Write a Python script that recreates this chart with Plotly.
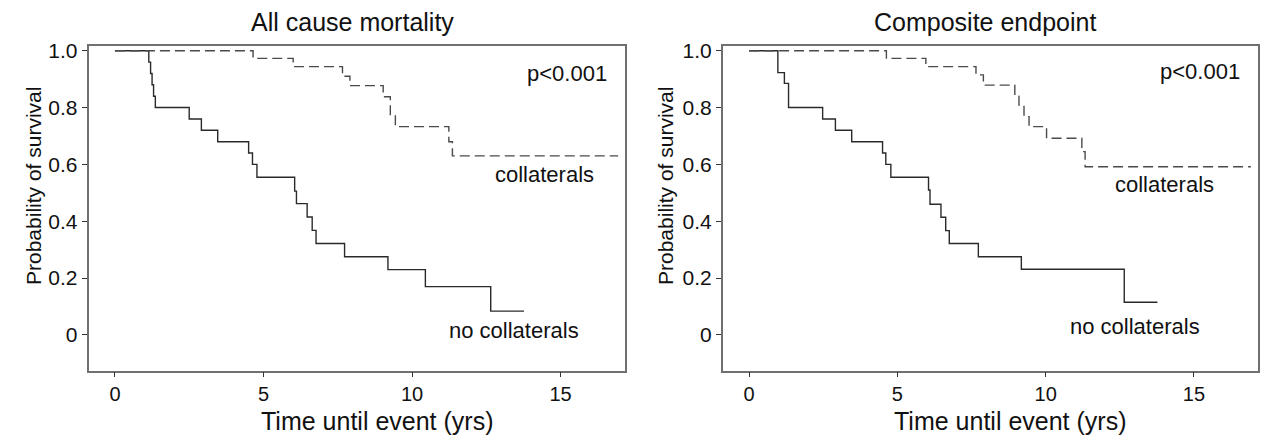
import plotly.graph_objects as go

# ---- data ----
left_nocoll_t = [0, 1.14, 1.20, 1.25, 1.30, 1.36, 2.50, 2.91, 3.46, 4.50, 4.63, 4.78, 6.05, 6.11, 6.47, 6.64, 6.77, 7.73, 9.19, 10.45, 12.65, 13.77]
left_nocoll_s = [1.0, 0.96, 0.92, 0.88, 0.84, 0.80, 0.76, 0.72, 0.68, 0.64, 0.60, 0.555, 0.506, 0.462, 0.415, 0.368, 0.322, 0.275, 0.23, 0.17, 0.084, 0.084]

left_coll_t = [0, 4.65, 6.00, 7.66, 7.91, 9.03, 9.27, 9.44, 11.24, 11.36, 16.94]
left_coll_s = [1.0, 0.973, 0.944, 0.91, 0.877, 0.838, 0.775, 0.733, 0.68, 0.63, 0.63]

right_nocoll_t = [0, 0.97, 1.19, 1.33, 2.48, 2.91, 3.46, 4.50, 4.61, 4.78, 6.05, 6.10, 6.47, 6.63, 6.75, 7.73, 9.18, 12.65, 13.77]
right_nocoll_s = [1.0, 0.923, 0.885, 0.80, 0.76, 0.72, 0.68, 0.64, 0.60, 0.555, 0.51, 0.46, 0.414, 0.367, 0.322, 0.275, 0.231, 0.115, 0.115]

right_coll_t = [0, 4.63, 5.96, 7.65, 7.90, 8.96, 9.10, 9.27, 9.44, 10.03, 11.22, 11.33, 16.92]
right_coll_s = [1.0, 0.973, 0.944, 0.915, 0.879, 0.84, 0.809, 0.768, 0.733, 0.692, 0.645, 0.592, 0.592]

titles = ["All cause mortality", "Composite endpoint"]
x_title = "Time until event (yrs)"
y_title = "Probability of survival"
x_ticks = [0, 5, 10, 15]
y_ticks = [0, 0.2, 0.4, 0.6, 0.8, 1.0]
y_ticktext = ["0", "0.2", "0.4", "0.6", "0.8", "1.0"]
p_text = "p<0.001"

# ---- layout constants ----
W, H = 1266, 441
FONT = "Liberation Sans, Arial, sans-serif"
SOLID_C = "#2a2a2a"
DASH_C = "#4a4a4a"
FRAME_C = "#707070"
XR = [-0.89, 17.17]
YR = [-0.1256, 1.0176]
ydom = [1 - 370.7 / H, 1 - 45.7 / H]
xdom1 = [88.5 / W, 625 / W]
xdom2 = [722.7 / W, 1258.3 / W]

fig = go.Figure()

fig.add_trace(go.Scatter(x=left_nocoll_t, y=left_nocoll_s, mode="lines", line_shape="hv",
                         line=dict(color=SOLID_C, width=1.4), xaxis="x", yaxis="y", showlegend=False))
fig.add_trace(go.Scatter(x=left_coll_t, y=left_coll_s, mode="lines", line_shape="hv",
                         line=dict(color=DASH_C, width=1.4, dash="10px,5px"), xaxis="x", yaxis="y", showlegend=False))
fig.add_trace(go.Scatter(x=right_nocoll_t, y=right_nocoll_s, mode="lines", line_shape="hv",
                         line=dict(color=SOLID_C, width=1.4), xaxis="x2", yaxis="y2", showlegend=False))
fig.add_trace(go.Scatter(x=right_coll_t, y=right_coll_s, mode="lines", line_shape="hv",
                         line=dict(color=DASH_C, width=1.4, dash="10px,5px"), xaxis="x2", yaxis="y2", showlegend=False))

xax = dict(range=XR, tickvals=x_ticks, ticks="outside", ticklen=5, tickwidth=1.2, tickcolor="#333",
           showline=True, linecolor=FRAME_C, linewidth=1.5, mirror=True, showgrid=False, zeroline=False,
           tickfont=dict(family=FONT, size=20, color="#111"), fixedrange=True, automargin=False)
yax = dict(range=YR, tickvals=y_ticks, ticktext=y_ticktext, ticks="outside", ticklen=5, tickwidth=1.2,
           tickcolor="#333", showline=True, linecolor=FRAME_C, linewidth=1.5, mirror=True, showgrid=False,
           zeroline=False, tickfont=dict(family=FONT, size=21, color="#111"), fixedrange=True, domain=ydom,
           automargin=False)

fig.update_layout(
    width=W, height=H, margin=dict(l=0, r=0, t=0, b=0, pad=0),
    paper_bgcolor="white", plot_bgcolor="white",
    xaxis=dict(xax, domain=xdom1, anchor="y"),
    yaxis=dict(yax, anchor="x"),
    xaxis2=dict(xax, domain=xdom2, anchor="y2"),
    yaxis2=dict(yax, anchor="x2"),
    font=dict(family=FONT, color="#111"),
)

ann = []
# panel titles
ann.append(dict(text=titles[0], x=353 / W, y=1 - 22 / H, xref="paper", yref="paper",
                showarrow=False, font=dict(size=25), xanchor="center", yanchor="middle"))
ann.append(dict(text=titles[1], x=985 / W, y=1 - 22 / H, xref="paper", yref="paper",
                showarrow=False, font=dict(size=25), xanchor="center", yanchor="middle"))
# x titles
for cx in (377, 1010):
    ann.append(dict(text=x_title, x=cx / W, y=1 - 421 / H, xref="paper", yref="paper",
                    showarrow=False, font=dict(size=25), xanchor="center", yanchor="middle"))
# y titles
for cx in (33, 665):
    ann.append(dict(text=y_title, x=cx / W, y=1 - 186 / H, xref="paper", yref="paper", textangle=-90,
                    showarrow=False, font=dict(size=21), xanchor="center", yanchor="middle"))
# in-plot labels
for xr, yr, px, py, cx, cy, nx, ny in (("x", "y", 15.21, 0.92, 14.45, 0.563, 13.44, 0.015),
                                       ("x2", "y2", 15.2, 0.926, 14.02, 0.528, 13.0, 0.029)):
    ann.append(dict(text=p_text, x=px, y=py, xref=xr, yref=yr, showarrow=False,
                    font=dict(size=22), xanchor="center", yanchor="middle"))
    ann.append(dict(text="collaterals", x=cx, y=cy, xref=xr, yref=yr, showarrow=False,
                    font=dict(size=22), xanchor="center", yanchor="middle"))
    ann.append(dict(text="no collaterals", x=nx, y=ny, xref=xr, yref=yr, showarrow=False,
                    font=dict(size=22), xanchor="center", yanchor="middle"))

fig.update_layout(annotations=ann)
fig.write_html("out.html", config={"displayModeBar": False},
               post_script="document.body.style.margin='0';document.body.style.overflow='hidden';")
